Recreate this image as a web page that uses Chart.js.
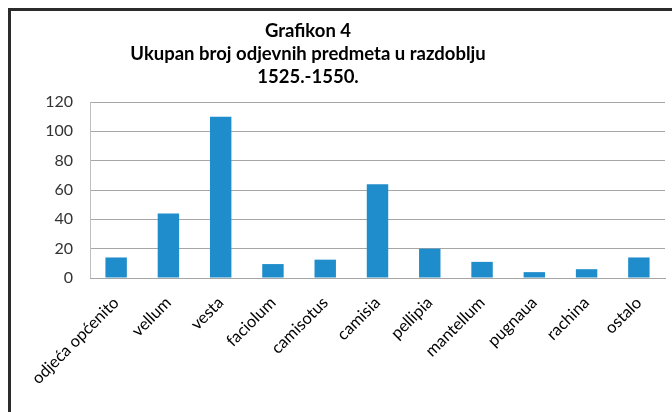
<!DOCTYPE html>
<html>
<head>
<meta charset="utf-8">
<script src="https://cdn.jsdelivr.net/npm/chart.js@4"></script>
<style>
  html, body { margin: 0; padding: 0; background: #fff; overflow: hidden; }
</style>
</head>
<body>
<canvas id="myChart" width="672" height="412"></canvas>
<script>
// podaci
const categories = ['odjeća općenito', 'vellum', 'vesta', 'faciolum', 'camisotus', 'camisia',
  'pellipia', 'mantellum', 'pugnaua', 'rachina', 'ostalo'];
const values = [14, 44, 110, 9.5, 12.5, 64, 20, 11, 4, 6, 14];
const yTicks = [0, 20, 40, 60, 80, 100, 120];
const titleLines = ['Grafikon 4', 'Ukupan broj odjevnih predmeta u razdoblju', '1525.-1550.'];

const fontName = 'Lato, "Open Sans", sans-serif';

// okvir (samo lijevo i gore) i naslov, koji nije centriran na sredini slike
const framePlugin = {
  id: 'frameAndTitle',
  beforeDraw(chart) {
    const ctx = chart.ctx;
    ctx.save();
    ctx.fillStyle = '#fff';
    ctx.fillRect(0, 0, chart.width, chart.height);
    ctx.strokeStyle = '#2b2b2b';
    ctx.lineWidth = 3;
    ctx.beginPath();
    ctx.moveTo(9.5, chart.height);
    ctx.lineTo(9.5, 9.5);
    ctx.lineTo(chart.width, 9.5);
    ctx.stroke();
    ctx.restore();
  },
  afterDraw(chart) {
    const ctx = chart.ctx;
    ctx.save();
    ctx.fillStyle = '#000';
    ctx.font = 'bold 18.5px ' + fontName;
    ctx.textAlign = 'center';
    ctx.textBaseline = 'middle';
    titleLines.forEach((t, i) => {
      ctx.fillText(t, 308, 31 + i * 23);
    });
    ctx.restore();
  }
};

var myChart = new Chart('myChart', {
  type: 'bar',
  data: {
    labels: categories,
    datasets: [{
      data: values,
      backgroundColor: '#1f8dcb',
      borderWidth: 0,
      barPercentage: 0.41,
      categoryPercentage: 1
    }]
  },
  options: {
    responsive: false,
    animation: false,
    layout: { padding: { top: 102, right: 7, left: 0, bottom: 0 } },
    plugins: {
      legend: { display: false },
      title: { display: false },
      tooltip: { enabled: false }
    },
    scales: {
      y: {
        min: 0,
        max: 120,
        afterBuildTicks: (s) => { s.ticks = yTicks.map(v => ({ value: v })); },
        afterFit: (s) => { s.width = 90; },
        grid: { color: '#a6a6a6', drawTicks: false },
        border: { color: '#bfbfbf' },
        ticks: { padding: 17, color: '#333', font: { family: fontName, size: 16 } }
      },
      x: {
        afterFit: (s) => { s.height = 134; },
        grid: { display: false, drawTicks: false },
        border: { color: '#a6a6a6' },
        ticks: {
          minRotation: 45, maxRotation: 45, padding: 15, autoSkip: false,
          color: '#000', font: { family: fontName, size: 16.5 }
        }
      }
    }
  },
  plugins: [framePlugin]
});
</script>
</body>
</html>
